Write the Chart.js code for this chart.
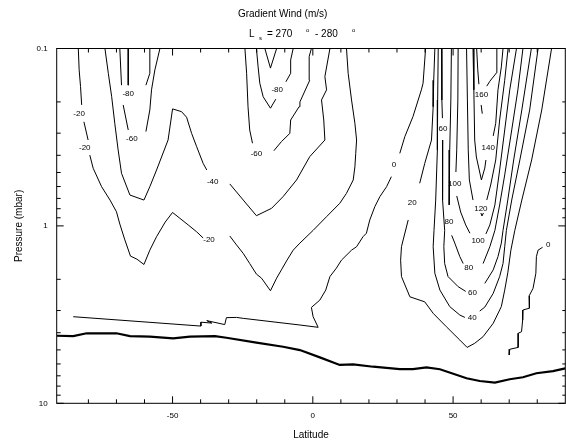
<!DOCTYPE html>
<html lang="en">
<head>
  <meta charset="UTF-8">
  <title>Gradient Wind (m/s)</title>
  <script src="https://cdn.jsdelivr.net/npm/chart.js"></script>
  <style>
    body { margin: 0; background: #fff; }
    canvas { display: block; }
  </style>
</head>
<body>
  <canvas id="windChart" width="566" height="441"></canvas>
  <script>
    // contour segments as [latitude, pressure (mbar)] pairs, split where a label sits
    const m20_1 = [[-83.6,0.1],[-83.3,0.132],[-82.8,0.164],[-82.4,0.208]];
    const m20_2 = [[-81.6,0.259],[-80.1,0.328]];
    const m20_3 = [[-79.5,0.399],[-78.3,0.473],[-75.3,0.601],[-72.3,0.715],[-70.0,0.832],[-68.8,0.976],[-67.0,1.20],[-65.0,1.48],[-62.7,1.54],[-60.2,1.65],[-58.1,1.37],[-55.7,1.15],[-52.6,0.951],[-50.0,0.840],[-47.4,0.906],[-44.4,0.988],[-41.4,1.08],[-39.1,1.17]];
    const m20_4 = [[-29.6,1.14],[-27.2,1.28],[-24.8,1.43],[-22.5,1.63],[-20.1,1.87],[-18.3,1.97],[-15.1,2.32],[-12.9,1.97],[-11.2,1.77],[-9.2,1.56],[-7.0,1.37],[-4.6,1.25],[0.1,1.06],[4.9,0.887],[9.6,0.746],[12.0,0.655],[14.4,0.551],[15.0,0.464],[15.3,0.390],[15.6,0.328],[15.0,0.264],[13.8,0.195],[12.6,0.138],[12.0,0.1]];

    const m40_1 = [[-74.1,0.1],[-72.9,0.138],[-71.7,0.187],[-70.6,0.264],[-69.4,0.373],[-68.2,0.505],[-65.2,0.670],[-60.2,0.715],[-58.1,0.601],[-55.7,0.484],[-51.6,0.328],[-50.0,0.219],[-46.8,0.227],[-45.0,0.244],[-43.2,0.301],[-41.4,0.358],[-39.1,0.444],[-37.8,0.484]];
    const m40_2 = [[-29.6,0.580],[-24.8,0.715],[-20.1,0.876],[-14.7,0.796],[-10.6,0.684],[-5.8,0.551],[-1.1,0.407],[4.3,0.328],[3.9,0.253],[3.1,0.195],[4.9,0.171],[4.3,0.144],[6.1,0.1]];

    const m60L_1 = [[-68.8,0.1],[-68.2,0.161]];
    const m60L_2 = [[-67.6,0.208],[-65.8,0.288]];
    const m60L_3 = [[-59.5,0.294],[-58.1,0.222],[-57.5,0.171],[-56.3,0.132],[-54.5,0.1]];
    const m80L_1 = [[-65.8,0.1],[-65.8,0.161]];
    const m80L_2 = [[-59.5,0.161],[-58.1,0.138],[-58.1,0.1]];

    const m60M_1 = [[-24.2,0.1],[-23.6,0.138],[-23.1,0.213],[-22.5,0.288],[-21.5,0.342]];
    const m60M_2 = [[-13.9,0.377],[-11.2,0.335],[-8.2,0.301],[-7.9,0.253],[-4.9,0.213],[-4.6,0.200],[-1.1,0.151],[-1.3,0.111],[-0.5,0.1]];
    const m80M_1 = [[-20.1,0.1],[-19.5,0.127],[-18.9,0.157],[-17.7,0.187],[-15.1,0.217],[-13.2,0.193]];
    const m80M_2 = [[-9.6,0.154],[-7.9,0.138],[-7.9,0.116],[-7.0,0.1]];
    const m100M = [[-17.1,0.1],[-15.1,0.129],[-12.9,0.1]];

    const zero_1 = [[40.2,0.1],[39.9,0.116],[39.3,0.157],[38.7,0.171],[35.7,0.242],[32.8,0.314],[31.0,0.390]];
    const zero_2 = [[28.0,0.528],[26.3,0.601],[23.9,0.684],[22.1,0.779],[20.3,0.926],[19.1,1.10],[17.9,1.15],[15.6,1.31],[13.8,1.37],[10.2,1.56],[8.4,1.73],[6.1,1.93],[4.6,2.30],[2.5,2.62],[-0.5,2.88],[0.1,3.25],[1.9,3.73],[-4.6,3.62],[-24.8,3.32],[-27.2,3.28],[-30.8,3.29],[-31.4,3.60],[-37.8,3.42],[-36.0,3.53],[-39.9,3.49],[-39.9,3.67],[-85.4,3.25]];
    const zeroEast = [[81.9,1.32],[80.3,1.37],[79.7,1.49],[79.5,1.85],[78.5,2.25],[77.1,2.48],[77.3,2.62],[77.1,2.91],[74.9,2.98],[74.8,3.39],[74.4,3.95],[73.2,4.03],[73.2,4.84],[70.2,4.96],[70.0,5.34]];

    const p20_1 = [[43.5,0.1],[43.1,0.151],[42.9,0.213],[42.3,0.328],[39.9,0.444],[38.1,0.575]];
    const p20_2 = [[34.0,0.926],[32.2,1.20],[31.6,1.31],[31.3,1.56],[31.6,1.93],[34.6,2.51],[39.9,2.68],[42.9,3.11],[47.6,3.70],[52.4,4.40],[55.0,4.84],[57.7,4.59],[60.7,4.21],[64.3,3.54],[67.2,2.85],[68.4,2.30],[69.5,1.84],[70.6,1.37],[72.0,1.06],[74.5,0.715],[78.0,0.425],[81.6,0.222],[85.1,0.1]];
    const p40_1 = [[44.7,0.1],[44.5,0.195],[44.4,0.373],[43.8,0.715],[43.2,1.06],[42.9,1.31],[43.5,1.85],[45.3,2.30],[48.8,2.85],[52.4,3.18],[54.2,3.28]];
    const p40_2 = [[59.5,3.02],[61.3,2.87],[64.3,2.40],[66.6,1.93],[67.8,1.63],[68.4,1.31],[69.0,1.06],[70.9,0.715],[73.8,0.425],[77.3,0.222],[80.3,0.1]];
    const p60_1 = [[45.9,0.1],[46.0,0.195],[46.2,0.247]];
    const p60_2 = [[46.3,0.328],[46.2,0.484],[46.3,0.715],[47.0,1.06],[46.7,1.31],[47.0,1.63],[48.2,1.93],[51.8,2.20],[54.5,2.34]];
    const p60_3 = [[61.3,2.11],[64.3,1.77],[66.0,1.49],[67.2,1.25],[67.8,1.06],[69.5,0.715],[71.6,0.425],[74.5,0.222],[77.9,0.1]];
    const p80_1 = [[49.4,0.1],[49.2,0.195],[48.8,0.373],[48.6,0.762]];
    const p80_2 = [[49.5,1.13],[50.6,1.25],[52.4,1.49],[53.6,1.63]];
    const p80_3 = [[60.7,1.63],[63.1,1.31],[64.9,1.06],[66.6,0.762],[68.4,0.516],[70.9,0.288],[73.1,0.171],[74.9,0.1]];
    const p100_1 = [[51.8,0.1],[51.7,0.195],[51.3,0.373],[51.0,0.497]];
    const p100_2 = [[51.3,0.678],[52.7,0.835],[54.5,0.988],[56.0,1.10]];
    const p100_3 = [[61.7,1.11],[63.1,0.988],[64.9,0.762],[66.6,0.484],[68.4,0.288],[70.2,0.171],[72.6,0.1]];
    const p120_1 = [[54.8,0.1],[55.1,0.195],[55.4,0.373],[55.8,0.551],[57.1,0.715]];
    const p120_2 = [[59.9,0.846],[60.3,0.879],[60.8,0.846]];
    const p120_3 = [[62.0,0.715],[63.4,0.588],[65.2,0.425],[66.6,0.253],[68.4,0.151],[69.6,0.1]];
    const p140_1 = [[57.1,0.1],[57.4,0.171],[57.7,0.328],[58.3,0.409],[60.1,0.551],[61.3,0.472],[61.7,0.425]];
    const p140_2 = [[64.3,0.311],[65.2,0.264],[66.0,0.171],[67.2,0.127],[67.8,0.1]];
    const p160_1 = [[58.4,0.1],[58.8,0.132],[59.2,0.159]];
    const p160_2 = [[60.0,0.208],[60.4,0.233]];
    const p160_3 = [[62.0,0.163],[63.1,0.153],[65.5,0.137],[65.6,0.1]];

    // heavy line near the bottom
    const surface = [[-91.3,4.16],[-85.4,4.18],[-80.6,4.03],[-70.0,4.03],[-65.2,4.18],[-58.1,4.21],[-49.8,4.30],[-43.8,4.21],[-34.9,4.18],[-30.8,4.27],[-20.1,4.55],[-10.6,4.80],[-4.6,5.01],[2.5,5.51],[9.6,6.08],[14.4,6.03],[21.5,6.22],[31.0,6.41],[35.7,6.41],[40.5,6.27],[45.3,6.43],[54.8,7.23],[59.5,7.49],[64.9,7.65],[70.2,7.32],[74.9,7.13],[79.7,6.77],[85.6,6.58],[90.0,6.35]];

    // contour labels
    const labelText = ['-20','-20','-80','-60','-40','-20','-80','-60','0','20','60','160','140','100','120','80','100','80','60','40','0'];
    const labelLat  = [-83.3,-81.3,-65.8,-64.5,-35.7,-37.0,-12.7,-20.1,28.9,35.4,46.4,60.1,62.5,50.6,59.9,48.5,58.9,55.6,56.9,56.8,83.9];
    const labelP    = [0.234,0.361,0.181,0.324,0.563,1.19,0.171,0.393,0.454,0.740,0.282,0.183,0.361,0.580,0.796,0.947,1.21,1.72,2.37,3.28,1.27];

    // axes
    const xTickVals = [-50, 0, 50];
    const xMinorTicks = [-80, -70, -60, -40, -30, -20, -10, 10, 20, 30, 40, 60, 70, 80];
    const yTickVals = [0.1, 1, 10];
    const yTickLabels = ['0.1', '1', '10'];
    const yMinorTicks = [0.2, 0.3, 0.4, 0.5, 0.6, 0.7, 0.8, 0.9, 2, 3, 4, 5, 6, 7, 8, 9];

    const FONT = '"Liberation Sans", Arial, Helvetica, sans-serif';
    Chart.defaults.font.family = FONT;
    Chart.defaults.color = '#000';

    const thinSegments = [
      m20_1, m20_2, m20_3, m20_4, m40_1, m40_2,
      m60L_1, m60L_2, m60L_3, m80L_1, m80L_2,
      m60M_1, m60M_2, m80M_1, m80M_2, m100M,
      zero_1, zero_2, zeroEast,
      p20_1, p20_2, p40_1, p40_2, p60_1, p60_2, p60_3,
      p80_1, p80_2, p80_3, p100_1, p100_2, p100_3,
      p120_1, p120_2, p120_3, p140_1, p140_2, p160_1, p160_2, p160_3
    ];

    const toPoints = seg => seg.map(([lat, p]) => ({ x: lat, y: p }));

    const datasets = thinSegments.map(seg => ({
      data: toPoints(seg),
      showLine: true,
      borderColor: '#000',
      borderWidth: 1,
      pointRadius: 0,
      tension: 0
    }));
    datasets.push({
      data: toPoints(surface),
      showLine: true,
      borderColor: '#000',
      borderWidth: 2.2,
      pointRadius: 0,
      tension: 0
    });

    // frame and inward tick marks on all four sides
    const frameTicks = {
      id: 'frameTicks',
      afterDatasetsDraw(chart) {
        const { ctx, chartArea: a, scales: { x, y } } = chart;
        ctx.save();
        ctx.strokeStyle = '#000';
        ctx.lineWidth = 1;
        ctx.strokeRect(a.left, a.top, a.right - a.left, a.bottom - a.top);
        ctx.beginPath();
        const xt = (v, len) => {
          const px = x.getPixelForValue(v);
          ctx.moveTo(px, a.bottom); ctx.lineTo(px, a.bottom - len);
          ctx.moveTo(px, a.top); ctx.lineTo(px, a.top + len);
        };
        const yt = (v, lenL, lenR) => {
          const py = y.getPixelForValue(v);
          ctx.moveTo(a.left, py); ctx.lineTo(a.left + lenL, py);
          ctx.moveTo(a.right, py); ctx.lineTo(a.right - lenR, py);
        };
        xTickVals.forEach(v => xt(v, 7));
        xMinorTicks.forEach(v => xt(v, 4));
        yTickVals.forEach(v => yt(v, 7, 7));
        yMinorTicks.forEach(v => yt(v, 4, 3));
        ctx.stroke();
        ctx.restore();
      }
    };

    const contourLabels = {
      id: 'contourLabels',
      afterDatasetsDraw(chart) {
        const { ctx, scales: { x, y } } = chart;
        ctx.save();
        ctx.font = '8px ' + FONT;
        ctx.fillStyle = '#000';
        ctx.textAlign = 'center';
        ctx.textBaseline = 'middle';
        labelText.forEach((t, i) => {
          ctx.fillText(t, x.getPixelForValue(labelLat[i]), y.getPixelForValue(labelP[i]));
        });
        ctx.restore();
      }
    };

    // second title line: L_s = 270° - 280°
    const seasonLine = {
      id: 'seasonLine',
      afterDraw(chart) {
        const ctx = chart.ctx;
        ctx.save();
        ctx.fillStyle = '#000';
        ctx.textAlign = 'left';
        ctx.textBaseline = 'alphabetic';
        ctx.font = '10px ' + FONT;
        ctx.fillText('L', 249, 37);
        ctx.fillText('= 270', 267, 37);
        ctx.fillText('- 280', 315, 37);
        ctx.font = '6px ' + FONT;
        ctx.fillText('s', 259, 39.5);
        ctx.fillText('o', 306, 32);
        ctx.fillText('o', 352, 32);
        ctx.restore();
      }
    };

    new Chart(document.getElementById('windChart'), {
      type: 'scatter',
      data: { datasets },
      options: {
        responsive: false,
        animation: false,
        devicePixelRatio: 1,
        layout: { padding: { top: 0, left: 0, right: 0.7, bottom: 0 } },
        plugins: {
          legend: { display: false },
          tooltip: { enabled: false },
          title: {
            display: true,
            text: 'Gradient Wind (m/s)',
            color: '#000',
            font: { size: 10, weight: 'normal' },
            padding: { top: 8, bottom: 28.5 }
          }
        },
        scales: {
          x: {
            type: 'linear',
            position: 'bottom',
            min: -91.3,
            max: 90,
            grid: { display: false, drawTicks: false },
            border: { display: false },
            afterBuildTicks: scale => { scale.ticks = xTickVals.map(v => ({ value: v })); },
            afterFit: scale => { scale.height = 37.7; },
            ticks: { font: { size: 8 }, color: '#000', padding: 7.5, maxRotation: 0 },
            title: { display: true, text: 'Latitude', color: '#000', font: { size: 10 }, padding: { top: 0, bottom: 0 } }
          },
          y: {
            type: 'logarithmic',
            position: 'left',
            reverse: true,
            min: 0.1,
            max: 10,
            grid: { display: false, drawTicks: false },
            border: { display: false },
            afterBuildTicks: scale => { scale.ticks = yTickVals.map(v => ({ value: v })); },
            afterFit: scale => { scale.width = 56.7; },
            ticks: {
              font: { size: 8 },
              color: '#000',
              padding: 9,
              callback: (v, i) => yTickLabels[i]
            },
            title: { display: true, text: 'Pressure (mbar)', color: '#000', font: { size: 10 }, padding: { top: 13, bottom: 0 } }
          }
        }
      },
      plugins: [frameTicks, contourLabels, seasonLine]
    });
  </script>
</body>
</html>
